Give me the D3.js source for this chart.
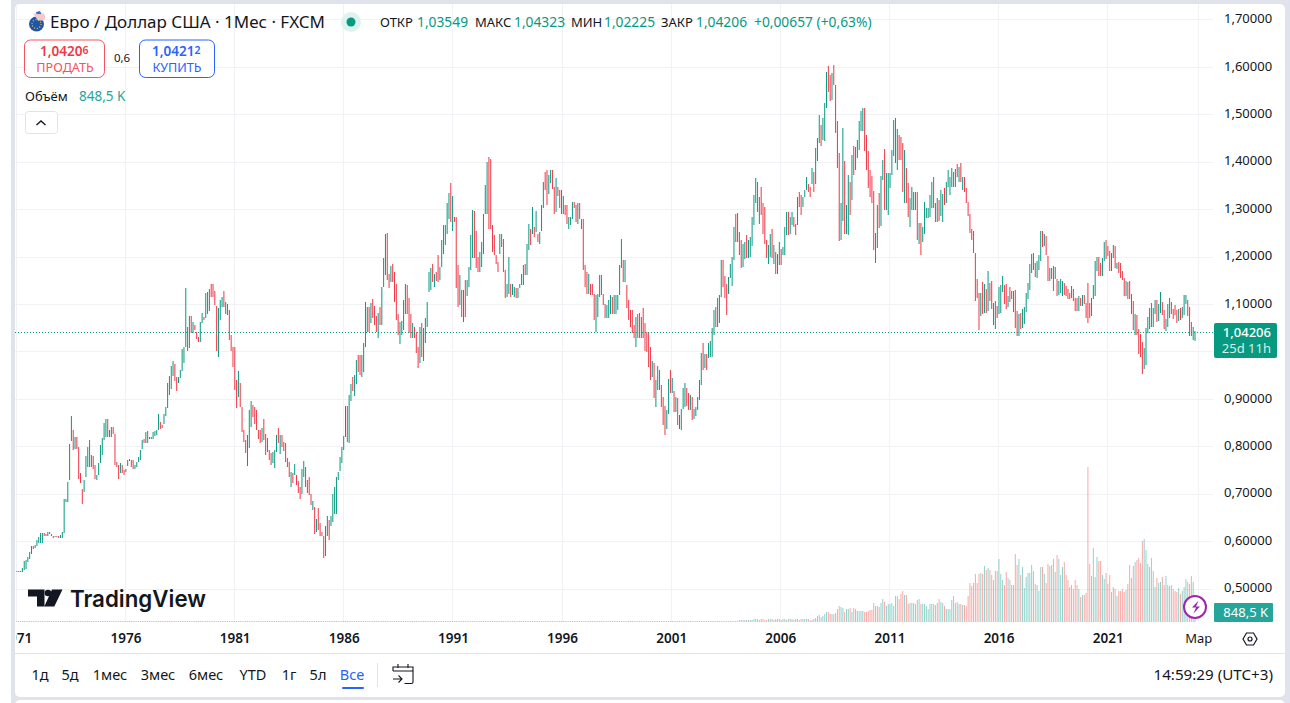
<!DOCTYPE html>
<html lang="ru">
<head>
<meta charset="utf-8">
<title>Евро / Доллар США</title>
<script src="https://cdn.jsdelivr.net/npm/d3@7/dist/d3.min.js"></script>
<style>
  html, body { margin: 0; padding: 0; background: #fff; overflow: hidden; }
  svg { display: block; font-family: "Noto Sans", Roboto, sans-serif; }
  .crisp { shape-rendering: crispEdges; }
</style>
</head>
<body>
<svg id="chart" width="1290" height="703"></svg>
<script>
// Monthly EUR/USD bars, January 1971 to February 2025, one line per year.
const highs = [
.539,.539,.539,.545,.559,.561,.568,.578,.591,.591,.594,.603,
.610,.619,.619,.618,.617,.621,.620,.617,.613,.612,.613,.613,
.615,.620,.690,.690,.726,.805,.864,.835,.820,.820,.800,.744,
.710,.731,.781,.800,.815,.782,.780,.761,.741,.766,.803,.818,
.851,.859,.859,.836,.842,.841,.828,.767,.761,.765,.761,.751,
.754,.773,.774,.773,.772,.761,.768,.779,.793,.815,.816,.831,
.833,.821,.821,.831,.834,.836,.870,.853,.847,.869,.883,.935,
.949,.970,.980,.975,.948,.947,.961,1.006,1.011,1.134,1.053,1.076,
1.076,1.064,1.057,1.041,1.032,1.064,1.083,1.074,1.125,1.127,1.132,1.144,
1.144,1.129,1.097,1.092,1.109,1.115,1.129,1.106,1.102,1.088,1.036,1.011,
1.011,.941,.959,.934,.884,.836,.814,.825,.877,.896,.888,.883,
.877,.835,.835,.840,.858,.827,.819,.793,.787,.789,.793,.825,
.839,.825,.825,.811,.807,.776,.768,.747,.744,.764,.741,.727,
.716,.753,.771,.758,.731,.736,.700,.685,.674,.648,.670,.639,
.620,.613,.634,.655,.645,.655,.700,.716,.736,.747,.778,.799,
.822,.887,.885,.910,.932,.947,.952,.983,.994,.994,.994,1.018,
1.106,1.095,1.095,1.104,1.111,1.097,1.076,1.083,1.094,1.136,1.199,1.248,
1.251,1.164,1.182,1.186,1.169,1.144,1.081,1.064,1.066,1.109,1.143,1.141,
1.113,1.081,1.062,1.053,1.043,1.011,1.053,1.062,1.050,1.071,1.106,1.169,
1.176,1.186,1.165,1.169,1.204,1.179,1.235,1.267,1.267,1.314,1.335,1.356,
1.328,1.284,1.284,1.183,1.162,1.130,1.130,1.151,1.151,1.179,1.246,1.300,
1.298,1.256,1.200,1.211,1.232,1.291,1.352,1.401,1.410,1.406,1.267,1.246,
1.204,1.190,1.249,1.249,1.239,1.172,1.144,1.200,1.144,1.144,1.137,1.134,
1.134,1.144,1.165,1.183,1.186,1.228,1.270,1.260,1.306,1.263,1.298,1.249,
1.253,1.310,1.359,1.380,1.384,1.373,1.384,1.384,1.348,1.366,1.348,1.341,
1.341,1.328,1.310,1.310,1.284,1.284,1.317,1.317,1.310,1.313,1.313,1.281,
1.281,1.183,1.169,1.165,1.144,1.144,1.123,1.120,1.123,1.162,1.162,1.123,
1.102,1.099,1.109,1.120,1.116,1.120,1.120,1.120,1.183,1.239,1.193,1.193,
1.141,1.109,1.088,1.088,1.057,1.074,1.081,1.083,1.074,1.092,1.060,1.043,
1.043,1.011,.980,.976,.941,.970,.961,.930,.904,.887,.877,.943,
.961,.945,.917,.905,.903,.866,.880,.924,.934,.924,.913,.909,
.906,.880,.884,.906,.941,.998,1.019,.996,.996,1.018,1.022,1.050,
1.088,1.095,1.113,1.120,1.193,1.193,1.160,1.144,1.158,1.186,1.200,1.263,
1.291,1.293,1.253,1.237,1.228,1.232,1.246,1.235,1.242,1.284,1.331,1.367,
1.359,1.327,1.348,1.313,1.306,1.235,1.225,1.248,1.260,1.225,1.211,1.207,
1.232,1.218,1.221,1.263,1.296,1.296,1.284,1.294,1.284,1.270,1.327,1.338,
1.331,1.327,1.341,1.369,1.355,1.348,1.387,1.380,1.430,1.451,1.500,1.479,
1.493,1.525,1.591,1.602,1.584,1.588,1.604,1.563,1.486,1.419,1.313,1.472,
1.402,1.310,1.374,1.359,1.416,1.435,1.433,1.447,1.486,1.507,1.514,1.514,
1.458,1.423,1.384,1.370,1.339,1.250,1.310,1.335,1.370,1.405,1.428,1.377,
1.377,1.377,1.426,1.489,1.493,1.470,1.458,1.454,1.440,1.426,1.388,1.356,
1.324,1.348,1.338,1.338,1.338,1.271,1.271,1.264,1.317,1.303,1.303,1.331,
1.359,1.369,1.313,1.324,1.320,1.341,1.334,1.345,1.359,1.383,1.369,1.387,
1.380,1.385,1.397,1.390,1.399,1.369,1.369,1.345,1.317,1.291,1.260,1.256,
1.209,1.153,1.124,1.124,1.147,1.143,1.132,1.171,1.146,1.149,1.104,1.107,
1.097,1.137,1.142,1.160,1.142,1.143,1.118,1.137,1.128,1.128,1.130,1.087,
1.081,1.083,1.090,1.095,1.125,1.145,1.185,1.207,1.209,1.188,1.192,1.204,
1.254,1.256,1.248,1.244,1.202,1.177,1.177,1.181,1.179,1.153,1.149,1.153,
1.149,1.146,1.139,1.132,1.125,1.139,1.132,1.114,1.114,1.118,1.114,1.121,
1.121,1.104,1.146,1.104,1.114,1.142,1.191,1.201,1.201,1.188,1.198,1.231,
1.235,1.224,1.212,1.209,1.226,1.223,1.188,1.190,1.188,1.170,1.156,1.149,
1.148,1.149,1.123,1.108,1.079,1.077,1.048,1.037,1.020,1.009,1.050,1.074,
1.093,1.103,1.093,1.110,1.109,1.101,1.127,1.106,1.088,1.070,1.102,1.114,
1.105,1.090,1.098,1.089,1.090,1.092,1.095,1.120,1.121,1.109,1.094,1.063,
1.053,1.04323
];
const lows = [
.536,.536,.536,.536,.540,.543,.557,.564,.575,.585,.586,.590,
.597,.597,.597,.612,.613,.613,.616,.612,.608,.609,.609,.608,
.608,.608,.618,.683,.683,.730,.812,.793,.796,.796,.733,.723,
.679,.705,.736,.758,.758,.758,.754,.733,.731,.740,.765,.782,
.814,.821,.821,.821,.821,.828,.761,.758,.733,.744,.745,.740,
.747,.759,.771,.758,.753,.753,.758,.768,.773,.796,.807,.807,
.807,.816,.816,.816,.822,.824,.835,.837,.839,.849,.865,.881,
.910,.922,.950,.939,.917,.934,.945,.959,.976,1.011,1.003,1.008,
1.039,1.039,1.046,1.027,1.020,1.020,1.062,1.067,1.072,1.081,1.087,1.116,
1.116,1.099,1.001,.990,1.067,1.094,1.095,1.081,1.078,1.025,1.001,.968,
.919,.881,.906,.884,.832,.811,.787,.760,.797,.842,.863,.849,
.836,.816,.808,.811,.814,.783,.790,.773,.761,.766,.755,.790,
.807,.785,.800,.792,.769,.758,.736,.716,.723,.740,.719,.702,
.689,.701,.736,.716,.702,.698,.677,.667,.617,.620,.625,.613,
.611,.565,.570,.613,.603,.632,.642,.659,.659,.730,.748,.766,
.793,.821,.811,.809,.897,.917,.907,.932,.957,.952,.947,.957,
1.011,1.043,1.042,1.062,1.071,1.057,1.043,1.029,1.057,1.057,1.136,1.162,
1.151,1.134,1.148,1.148,1.106,1.067,1.036,1.017,1.036,1.046,1.081,1.081,
1.039,1.029,1.029,1.029,.997,.966,.976,.990,.980,1.018,1.053,1.127,
1.130,1.148,1.137,1.150,1.148,1.151,1.179,1.207,1.225,1.249,1.281,1.274,
1.256,1.274,1.134,1.095,1.099,1.074,1.064,1.074,1.118,1.137,1.172,1.197,
1.197,1.176,1.169,1.169,1.179,1.207,1.291,1.291,1.260,1.260,1.211,1.204,
1.186,1.169,1.207,1.221,1.169,1.113,1.116,1.123,1.116,1.120,1.116,1.113,
1.113,1.134,1.141,1.141,1.162,1.162,1.214,1.225,1.249,1.242,1.253,1.232,
1.228,1.256,1.303,1.342,1.310,1.334,1.356,1.343,1.291,1.295,1.328,1.303,
1.291,1.291,1.288,1.270,1.260,1.267,1.281,1.303,1.274,1.270,1.281,1.260,
1.172,1.137,1.123,1.123,1.120,1.120,1.067,1.043,1.074,1.116,1.120,1.099,
1.071,1.071,1.071,1.081,1.081,1.081,1.081,1.088,1.120,1.176,1.148,1.148,
1.092,1.067,1.053,1.039,1.029,1.011,1.029,1.029,1.029,1.029,1.001,.999,
.969,.941,.948,.902,.884,.920,.920,.884,.845,.824,.838,.870,
.913,.913,.873,.873,.845,.838,.836,.880,.884,.887,.877,.877,
.857,.859,.864,.877,.899,.931,.962,.966,.961,.987,.990,.990,
1.036,1.053,1.053,1.060,1.116,1.137,1.113,1.078,1.123,1.155,1.139,1.193,
1.232,1.232,1.204,1.176,1.179,1.195,1.197,1.197,1.200,1.223,1.267,1.313,
1.296,1.270,1.288,1.249,1.228,1.197,1.186,1.200,1.197,1.186,1.165,1.165,
1.183,1.183,1.204,1.204,1.246,1.246,1.249,1.267,1.263,1.246,1.267,1.306,
1.289,1.306,1.327,1.341,1.338,1.327,1.355,1.338,1.355,1.402,1.440,1.434,
1.447,1.444,1.514,1.549,1.528,1.532,1.563,1.461,1.388,1.233,1.236,1.275,
1.249,1.249,1.246,1.288,1.321,1.373,1.383,1.409,1.426,1.465,1.465,1.423,
1.383,1.345,1.327,1.313,1.215,1.187,1.219,1.261,1.266,1.362,1.299,1.299,
1.289,1.345,1.373,1.413,1.398,1.384,1.405,1.405,1.338,1.313,1.313,1.285,
1.263,1.299,1.299,1.299,1.235,1.228,1.204,1.232,1.249,1.282,1.282,1.285,
1.303,1.303,1.274,1.274,1.277,1.287,1.274,1.310,1.313,1.348,1.331,1.348,
1.347,1.347,1.369,1.359,1.359,1.341,1.337,1.313,1.287,1.250,1.235,1.209,
1.108,1.114,1.046,1.076,1.079,1.083,1.083,1.087,1.107,1.090,1.056,1.048,
1.071,1.081,1.083,1.127,1.100,1.091,1.095,1.105,1.112,1.085,1.051,1.034,
1.034,1.049,1.050,1.058,1.084,1.111,1.131,1.166,1.172,1.157,1.155,1.172,
1.191,1.221,1.224,1.205,1.149,1.149,1.153,1.128,1.153,1.118,1.121,1.125,
1.118,1.121,1.118,1.111,1.111,1.114,1.107,1.086,1.086,1.086,1.097,1.097,
1.100,1.072,1.062,1.072,1.076,1.111,1.118,1.171,1.161,1.160,1.160,1.192,
1.195,1.202,1.170,1.170,1.198,1.177,1.175,1.166,1.156,1.152,1.118,1.118,
1.112,1.111,1.081,1.047,1.035,1.036,.995,.990,.954,.963,.973,1.039,
1.048,1.053,1.052,1.079,1.064,1.066,1.083,1.077,1.049,1.045,1.052,1.072,
1.080,1.069,1.077,1.060,1.065,1.067,1.071,1.078,1.100,1.076,1.033,1.034,
1.025,1.02225
];
const closes = [
.537,.538,.538,.540,.555,.558,.566,.576,.588,.586,.590,.601,
.608,.610,.618,.615,.614,.620,.617,.613,.610,.611,.610,.609,
.611,.618,.685,.688,.721,.796,.856,.801,.816,.799,.739,.731,
.706,.726,.776,.791,.761,.763,.758,.736,.739,.763,.799,.813,
.846,.856,.826,.829,.839,.831,.766,.761,.736,.761,.749,.743,
.751,.771,.773,.761,.756,.759,.766,.776,.791,.811,.809,.829,
.813,.819,.820,.829,.831,.834,.866,.847,.841,.866,.881,.927,
.914,.964,.975,.942,.922,.944,.957,1.000,1.007,1.052,1.007,1.067,
1.042,1.057,1.050,1.032,1.022,1.060,1.080,1.070,1.120,1.087,1.126,1.120,
1.118,1.104,1.007,1.080,1.102,1.112,1.099,1.102,1.084,1.032,1.005,.972,
.927,.886,.952,.889,.836,.816,.791,.816,.871,.886,.876,.856,
.841,.821,.816,.833,.819,.789,.813,.776,.766,.771,.786,.816,
.811,.819,.816,.796,.773,.771,.741,.741,.731,.743,.723,.713,
.696,.746,.763,.723,.709,.703,.680,.682,.622,.640,.632,.618,
.616,.570,.628,.648,.640,.650,.695,.706,.729,.743,.773,.793,
.816,.881,.821,.897,.927,.922,.937,.977,.962,.957,.962,1.012,
1.043,1.092,1.062,1.100,1.077,1.062,1.047,1.067,1.060,1.132,1.192,1.242,
1.157,1.142,1.177,1.152,1.112,1.072,1.042,1.052,1.060,1.102,1.132,1.087,
1.044,1.032,1.057,1.047,1.002,.972,1.047,.997,1.042,1.064,1.100,1.162,
1.170,1.152,1.162,1.157,1.152,1.174,1.230,1.212,1.232,1.307,1.328,1.282,
1.322,1.277,1.142,1.102,1.107,1.080,1.122,1.082,1.147,1.172,1.240,1.290,
1.202,1.182,1.174,1.177,1.227,1.282,1.343,1.393,1.267,1.264,1.217,1.210,
1.192,1.174,1.242,1.227,1.174,1.120,1.137,1.192,1.122,1.124,1.132,1.120,
1.130,1.142,1.162,1.177,1.167,1.222,1.264,1.232,1.300,1.252,1.257,1.242,
1.247,1.303,1.353,1.348,1.318,1.365,1.378,1.348,1.297,1.358,1.333,1.308,
1.297,1.302,1.292,1.274,1.277,1.282,1.313,1.308,1.280,1.307,1.284,1.264,
1.180,1.142,1.130,1.157,1.127,1.124,1.072,1.112,1.120,1.157,1.127,1.102,
1.077,1.092,1.102,1.114,1.087,1.112,1.114,1.117,1.172,1.182,1.157,1.167,
1.100,1.072,1.057,1.044,1.034,1.067,1.042,1.034,1.067,1.037,1.006,1.002,
.974,.947,.952,.907,.934,.964,.927,.889,.851,.831,.871,.937,
.920,.922,.879,.896,.851,.861,.873,.917,.927,.891,.881,.883,
.861,.876,.881,.902,.934,.992,.967,.987,.977,1.012,1.017,1.042,
1.082,1.077,1.105,1.112,1.182,1.142,1.120,1.087,1.152,1.162,1.192,1.257,
1.237,1.287,1.210,1.182,1.222,1.227,1.202,1.230,1.237,1.277,1.323,1.361,
1.303,1.325,1.297,1.257,1.237,1.204,1.217,1.242,1.202,1.207,1.172,1.188,
1.217,1.194,1.212,1.257,1.288,1.252,1.277,1.282,1.270,1.262,1.321,1.313,
1.298,1.323,1.338,1.363,1.348,1.343,1.381,1.343,1.424,1.444,1.494,1.442,
1.487,1.519,1.584,1.559,1.534,1.579,1.569,1.469,1.396,1.243,1.248,1.404,
1.263,1.270,1.328,1.327,1.409,1.406,1.429,1.434,1.469,1.476,1.504,1.436,
1.389,1.365,1.354,1.333,1.228,1.225,1.306,1.274,1.363,1.399,1.308,1.340,
1.369,1.374,1.419,1.484,1.439,1.453,1.442,1.440,1.349,1.394,1.348,1.297,
1.313,1.328,1.333,1.323,1.243,1.269,1.232,1.258,1.287,1.298,1.300,1.321,
1.353,1.310,1.282,1.318,1.300,1.303,1.330,1.322,1.352,1.361,1.362,1.378,
1.352,1.383,1.380,1.387,1.363,1.365,1.339,1.316,1.292,1.254,1.245,1.212,
1.130,1.120,1.073,1.120,1.098,1.115,1.098,1.120,1.117,1.100,1.057,1.086,
1.083,1.093,1.138,1.145,1.113,1.102,1.117,1.115,1.124,1.090,1.059,1.052,
1.080,1.058,1.065,1.090,1.118,1.142,1.183,1.190,1.181,1.164,1.190,1.200,
1.245,1.220,1.230,1.208,1.168,1.168,1.165,1.160,1.160,1.130,1.132,1.145,
1.145,1.137,1.122,1.121,1.117,1.137,1.110,1.098,1.090,1.115,1.100,1.118,
1.108,1.102,1.100,1.095,1.110,1.125,1.178,1.190,1.172,1.165,1.192,1.222,
1.212,1.208,1.175,1.202,1.222,1.186,1.187,1.181,1.158,1.155,1.132,1.137,
1.123,1.122,1.107,1.054,1.073,1.048,1.022,1.005,.980,.988,1.040,1.070,
1.086,1.058,1.084,1.102,1.069,1.091,1.102,1.084,1.057,1.058,1.089,1.104,
1.082,1.081,1.079,1.067,1.085,1.071,1.083,1.105,1.114,1.082,1.058,1.035,
1.03549,1.04206
];
// Traded volume per month, in thousands.
const volumes = [
80,70,80,70,80,70,80,70,80,70,80,70, 80,70,80,70,80,70,80,70,80,70,80,70,
80,70,80,70,80,70,80,70,80,70,80,70, 80,70,80,70,80,70,80,70,80,70,80,70,
80,70,80,70,80,70,80,70,80,70,80,70, 80,70,80,70,80,70,80,70,80,70,80,70,
80,70,80,70,80,70,80,70,80,70,80,70, 80,70,80,70,80,70,80,70,80,70,80,70,
80,70,80,70,80,70,80,70,80,70,80,70, 80,70,80,70,80,70,80,70,80,70,80,70,
80,70,80,70,80,70,80,70,80,70,80,70, 80,70,80,70,80,70,80,70,80,70,80,70,
80,70,80,70,80,70,80,70,80,70,80,70, 80,70,80,70,80,70,80,70,80,70,80,70,
80,70,80,70,80,70,80,70,80,70,80,70, 80,70,80,70,80,70,80,70,80,70,80,70,
80,70,80,70,80,70,80,70,80,70,80,70, 80,70,80,70,80,70,80,70,80,70,80,70,
80,70,80,70,80,70,80,70,80,70,80,70, 80,70,80,70,80,70,80,70,80,70,80,70,
80,70,80,70,80,70,80,70,80,70,80,70, 80,70,80,70,80,70,80,70,80,70,80,70,
80,70,80,70,80,70,80,70,80,70,80,70, 80,70,80,70,80,70,80,70,80,70,80,70,
80,70,80,70,80,70,80,70,80,70,80,70, 80,70,80,70,80,70,80,70,80,70,80,70,
80,70,80,70,80,70,80,70,80,70,80,70, 80,70,80,70,80,70,80,70,80,70,80,70,
80,80,90,90,90,90,90,90,90,90,90,90, 90,90,90,90,90,90,90,90,90,90,90,90,
90,90,90,90,90,90,90,90,90,90,90,90, 90,90,90,90,90,90,90,90,90,90,90,90,
90,90,90,90,90,90,90,90,90,90,90,90,90,90,
170,170,170,170,210,210,
210,210,230,230,230,210,230,230,210,210,230,230, 230,210,230,230,230,210,230,230,210,230,230,230,
210,230,230,210,
226,226,226,226,226,170,170,226,311,509,566,453,
509,651,849,849,708,708,708,792,1075,1387,1245,1160,
877,1104,1104,1160,877,1160,1075,962,962,962,934,877,
877,962,990,990,1585,1387,1358,1302,1585,1924,1670,1358,
1500,1500,1641,1358,2207,2236,1953,2377,2632,2292,2292,1500,
1641,1641,1585,1528,1868,1924,1528,1528,1528,1358,1075,1500,
1500,1500,1415,1585,1953,1726,1585,1358,1075,1075,1075,1868,
2207,1585,1698,1500,1528,1415,1415,1358,2207,3283,3056,3283,
4047,3283,4047,4188,4047,4754,4415,4556,4415,3990,3566,4330,
4330,5320,4075,3566,3141,4273,3707,3566,3141,3141,5773,4839,
5349,3990,4698,2858,3849,4132,4188,4839,4358,3226,3141,2660,
4698,4641,4075,3283,4924,4754,4839,5320,4273,5688,5320,3990,
4641,5094,3990,3566,2943,3113,2773,3566,3113,2773,2094,2292,
2292,2490,13131,4924,3905,6254,3849,5490,5179,5179,3990,3622,
4132,3226,3990,2575,3000,2773,2207,2660,2660,2773,2575,2717,
3226,4839,3707,4754,5122,5264,5405,4981,6820,7047,6113,4896,
4641,5405,4300,3000,3707,3339,3424,3849,3141,3905,3141,3085,
3141,2802,2660,2575,2858,2349,2660,3000,3622,3424,3226,3934,
3368,848.5
];

const priceTicks = [0.5,0.6,0.7,0.8,0.9,1.0,1.1,1.2,1.3,1.4,1.5,1.6,1.7];
const yearTicks = [1971,1976,1981,1986,1991,1996,2001,2006,2011,2016,2021];
const rangeButtons = ["1д","5д","1мес","3мес","6мес","YTD","1г","5л","Все"];
const quote = [["ОТКР","1,03549"],["МАКС","1,04323"],["МИН","1,02225"],["ЗАКР","1,04206"]];
const lastClose = 1.04206;

const UP = "#089981", DOWN = "#f23645", INK = "#131722", GRID = "#f1f2f6", FRAME = "#e0e3eb";

const svg = d3.select("#chart");
const fmtPrice = v => d3.format(".5f")(v).replace(".", ",");

// Open of each bar is the previous month's close, kept inside that bar's range.
const bars = closes.map((close, i) => {
  const prev = i ? closes[i - 1] : close;
  return { i, high: highs[i], low: lows[i], close, volume: volumes[i],
           open: Math.min(highs[i], Math.max(lows[i], prev)) };
});

const x = d3.scaleLinear().domain([0, 649]).range([16.96, 1195]);
const xTime = d3.scaleLinear().domain([60, 600]).range([125.5, 1107.7]);
const y = d3.scaleLinear().domain([0.5, 1.7]).range([589.1, 19.9]);
const yVol = d3.scaleLinear().domain([0, 13131]).range([622, 467]);
const monthIndex = year => (year - 1971) * 12;

// Page frame around the chart panel.
svg.append("rect").attr("width", 1290).attr("height", 703).attr("fill", "#fff");
svg.append("rect").attr("x", 11).attr("width", 1279).attr("height", 703).attr("fill", FRAME);
svg.append("rect").attr("x", 15).attr("y", 4).attr("width", 1270).attr("height", 693)
   .attr("rx", 5).attr("fill", "#fff");
svg.append("rect").attr("x", 15).attr("y", 700).attr("width", 1270).attr("height", 12)
   .attr("rx", 5).attr("fill", "#fff");

const defs = svg.append("defs");
defs.append("clipPath").attr("id", "pane").append("rect")
    .attr("x", 15).attr("y", 4).attr("width", 1198).attr("height", 619);
defs.append("clipPath").attr("id", "timeStrip").append("rect")
    .attr("x", 16.4).attr("y", 624).attr("width", 1196).attr("height", 28);

// Grid.
const grid = svg.append("g").attr("class", "crisp").attr("stroke", GRID).attr("clip-path", "url(#pane)");
grid.selectAll("line.h").data(priceTicks).join("line").attr("class", "h")
    .attr("x1", 15).attr("x2", 1213)
    .attr("y1", d => Math.floor(y(d)) + .5).attr("y2", d => Math.floor(y(d)) + .5);
grid.selectAll("line.v").data([...yearTicks.map(monthIndex), 650]).join("line").attr("class", "v")
    .attr("y1", 4).attr("y2", 622)
    .attr("x1", d => Math.floor(xTime(d)) + .5).attr("x2", d => Math.floor(xTime(d)) + .5);

const pane = svg.append("g").attr("clip-path", "url(#pane)");

// Volume columns: one pixel wide at a fractional position, so they soften where they straddle pixels.
pane.append("g").selectAll("rect").data(bars).join("rect")
    .attr("x", d => x(d.i) - .5)
    .attr("width", 1)
    .attr("y", d => Math.round(yVol(d.volume)))
    .attr("height", d => Math.max(1, 622 - Math.round(yVol(d.volume))))
    .attr("fill", d => d.close >= d.open ? "#26a69a" : "#ef5350")
    .attr("fill-opacity", .5);

// Last price line.
svg.append("line").attr("x1", 15).attr("x2", 1213)
   .attr("y1", Math.round(y(lastClose)) + .5).attr("y2", Math.round(y(lastClose)) + .5)
   .attr("stroke", UP).attr("stroke-width", 1).attr("stroke-dasharray", "1 2").attr("class", "crisp");

// Price bars, high to low, each about one pixel wide at this zoom.
pane.append("g").selectAll("rect").data(bars).join("rect")
    .attr("x", d => x(d.i) - .5)
    .attr("width", 1)
    .attr("y", d => Math.round(y(d.high)))
    .attr("height", d => Math.max(1, Math.round(y(d.low)) - Math.round(y(d.high))))
    .attr("fill", d => d.close >= d.open ? UP : DOWN);

// Price axis.
const priceAxis = d3.axisRight(y).tickValues(priceTicks).tickFormat(fmtPrice).tickSize(0).tickPadding(0);
const gPrice = svg.append("g").attr("transform", "translate(1224,-1.5)").call(priceAxis);
gPrice.select(".domain").remove();
gPrice.selectAll("text").attr("font-size", 13).attr("fill", INK)
      .attr("font-family", '"Noto Sans", Roboto, sans-serif');

// Time axis.
const timeAxis = d3.axisBottom(xTime)
    .tickValues(yearTicks.map(monthIndex))
    .tickFormat(i => 1971 + i / 12).tickSize(0).tickPadding(0);
const gTime = svg.append("g").attr("clip-path", "url(#timeStrip)")
    .append("g").attr("transform", "translate(0,633.5)").call(timeAxis);
gTime.select(".domain").remove();
gTime.selectAll("text").attr("font-size", 13.5).attr("font-weight", 600).attr("fill", INK)
     .attr("font-family", '"Noto Sans", Roboto, sans-serif');
svg.append("text").attr("x", xTime(650)).attr("y", 643).attr("text-anchor", "middle")
   .attr("font-size", 13).attr("fill", INK).text("Мар");

// Chart settings icon.
svg.append("path").attr("d", "M1243 639l3.5-6h7l3.5 6-3.5 6h-7z").attr("fill", "none").attr("stroke", INK).attr("stroke-width", 1.2);
svg.append("circle").attr("cx", 1250).attr("cy", 639).attr("r", 2).attr("fill", "none").attr("stroke", INK).attr("stroke-width", 1.2);

// Current price and volume tags.
svg.append("rect").attr("x", 1214).attr("y", 323).attr("width", 63).attr("height", 35).attr("rx", 2).attr("fill", UP);
svg.append("text").attr("x", 1271).attr("y", 337).attr("text-anchor", "end").attr("font-size", 13)
   .attr("font-weight", 500).attr("fill", "#fff").text(fmtPrice(lastClose));
svg.append("text").attr("x", 1271).attr("y", 353).attr("text-anchor", "end").attr("font-size", 13)
   .attr("fill", "#d6f0ea").text("25d 11h");
svg.append("rect").attr("x", 1214).attr("y", 603).attr("width", 59).attr("height", 19).attr("rx", 1).attr("fill", "#26a69a");
svg.append("text").attr("x", 1268).attr("y", 617).attr("text-anchor", "end").attr("font-size", 13)
   .attr("fill", "#fff").text("848,5 K");

// Lightning badge over the latest volume column.
svg.append("circle").attr("cx", 1195).attr("cy", 607).attr("r", 11).attr("fill", "#fff")
   .attr("stroke", "#9c27b0").attr("stroke-width", 2);
svg.append("path").attr("d", "M1198.5 600.5l-6.5 7h4l-2.5 6 6.5-7h-4z").attr("fill", "#9c27b0");

// Watermark.
const mark = svg.append("g").attr("fill", INK);
mark.append("path").attr("d", "M28 589.5h16.5v17h-7.5v-10h-9z");
mark.append("circle").attr("cx", 48).attr("cy", 593).attr("r", 3.3);
mark.append("path").attr("d", "M52 589.5h10.5l-8.2 17h-10z");
svg.append("text").attr("x", 70).attr("y", 606.5).attr("font-family", "Inter, Roboto, sans-serif")
   .attr("font-size", 23).attr("font-weight", 600).attr("textLength", 136).attr("lengthAdjust", "spacingAndGlyphs")
   .attr("fill", INK).text("TradingView");

// Legend: symbol title.
svg.append("circle").attr("cx", 36.5).attr("cy", 24).attr("r", 7.5).attr("fill", "#2056a8");
svg.append("circle").attr("cx", 36.5).attr("cy", 24).attr("r", 4.5).attr("fill", "none")
   .attr("stroke", "#e6c84a").attr("stroke-width", 1.2).attr("stroke-dasharray", "1 1.8");
svg.append("path").attr("d", "M33 13.5h11l1.5 4-1.5 3h-6z").attr("fill", "#f3c9cf");
svg.append("path").attr("d", "M36 12l4-1 1.5 3h-5z").attr("fill", "#3f6fc4");
svg.append("text").attr("x", 50).attr("y", 28).attr("font-size", 16).attr("fill", INK)
   .attr("textLength", 275).attr("lengthAdjust", "spacingAndGlyphs")
   .text("Евро / Доллар США · 1Мес · FXCM");

// Market status dot.
svg.append("circle").attr("cx", 351).attr("cy", 22).attr("r", 10).attr("fill", "#dff3ee");
svg.append("circle").attr("cx", 351).attr("cy", 22).attr("r", 4.5).attr("fill", UP);

// Legend: OHLC values.
const quoteLabelX = [380, 475, 571, 661], quoteValueX = [417, 514, 604, 696];
const qt = svg.append("g");
qt.selectAll("text.l").data(quote).join("text").attr("class", "l").attr("font-size", 13)
  .attr("x", (d, i) => quoteLabelX[i]).attr("y", 27).attr("fill", INK).text(d => d[0]);
qt.selectAll("text.v").data(quote).join("text").attr("class", "v").attr("font-size", 13.8)
  .attr("x", (d, i) => quoteValueX[i]).attr("y", 27).attr("fill", UP).text(d => d[1]);
qt.append("text").attr("x", 754).attr("y", 27).attr("font-size", 13.8).attr("fill", UP).text("+0,00657 (+0,63%)");

// Sell and buy buttons.
svg.append("rect").attr("x", 24.5).attr("y", 40).attr("width", 80).attr("height", 37.5).attr("rx", 6)
   .attr("fill", "#fff").attr("stroke", "#f7525f");
svg.append("text").attr("x", 40).attr("y", 56).attr("font-size", 13.5).attr("font-weight", 600).attr("fill", DOWN)
   .html('1,0420<tspan font-size="10.5" dy="-2">6</tspan>');
svg.append("text").attr("x", 65).attr("y", 72).attr("text-anchor", "middle").attr("font-size", 12.6)
   .attr("fill", "#f7525f").text("ПРОДАТЬ");
svg.append("text").attr("x", 122).attr("y", 62).attr("text-anchor", "middle").attr("font-size", 11.5)
   .attr("fill", INK).text("0,6");
svg.append("rect").attr("x", 139.5).attr("y", 40).attr("width", 75).attr("height", 37.5).attr("rx", 6)
   .attr("fill", "#fff").attr("stroke", "#2962ff");
svg.append("text").attr("x", 152).attr("y", 56).attr("font-size", 13.5).attr("font-weight", 600).attr("fill", "#2962ff")
   .html('1,0421<tspan font-size="10.5" dy="-2">2</tspan>');
svg.append("text").attr("x", 177).attr("y", 72).attr("text-anchor", "middle").attr("font-size", 12.6)
   .attr("fill", "#2962ff").text("КУПИТЬ");

// Volume legend and collapse button.
svg.append("text").attr("x", 25).attr("y", 101).attr("font-size", 13).attr("fill", INK).text("Объём");
svg.append("text").attr("x", 79).attr("y", 101).attr("font-size", 13.5).attr("fill", "#26a69a").text("848,5 K");
svg.append("rect").attr("x", 25.5).attr("y", 111.5).attr("width", 32).attr("height", 22).attr("rx", 3)
   .attr("fill", "#fff").attr("stroke", FRAME);
svg.append("path").attr("d", "M36.5 125l4.5-4 4.5 4").attr("fill", "none").attr("stroke", INK).attr("stroke-width", 1.4);

// Bottom toolbar.
svg.append("line").attr("class", "crisp").attr("x1", 15).attr("x2", 1285).attr("y1", 653.5).attr("y2", 653.5).attr("stroke", FRAME);
const rangeX = [40, 70, 110, 158, 206, 253, 289, 318, 352];
svg.append("g").selectAll("text").data(rangeButtons).join("text")
   .attr("x", (d, i) => rangeX[i]).attr("y", 680).attr("text-anchor", "middle").attr("font-size", 14.5)
   .attr("fill", d => d === "Все" ? "#2962ff" : INK).text(d => d);
svg.append("rect").attr("x", 342).attr("y", 687).attr("width", 22).attr("height", 2).attr("rx", 1).attr("fill", "#2962ff");
svg.append("line").attr("class", "crisp").attr("x1", 377.5).attr("x2", 377.5).attr("y1", 663).attr("y2", 687).attr("stroke", FRAME);
svg.append("path").attr("fill", "none").attr("stroke", INK).attr("stroke-width", 1.1)
   .attr("d", "M393 671v-4h20v15a1.5 1.5 0 0 1-1.5 1.5h-7M393 671h20M398 664v4M408 664v4M393 679h9M398.5 675.5l3.5 3.5-3.5 3.5");
svg.append("text").attr("x", 1273).attr("y", 680).attr("text-anchor", "end").attr("font-size", 15.2)
   .attr("fill", INK).text("14:59:29 (UTC+3)");
</script>
</body>
</html>
